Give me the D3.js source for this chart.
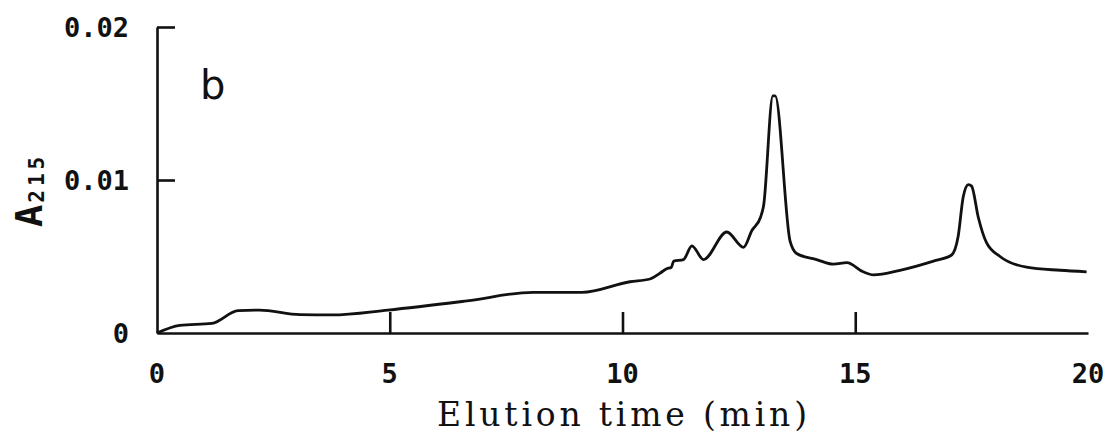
<!DOCTYPE html>
<html><head><meta charset="utf-8">
<script src="https://cdn.jsdelivr.net/npm/d3@7"></script>
<style>body{margin:0;background:#fff}svg{display:block}</style>
</head><body>
<svg id="c" width="1107" height="437"></svg>
<script>
const times  = [0, 0.49, 1.18, 1.74, 2.2, 3.07, 3.76, 4.96, 6.66, 8.08, 9.13, 10.16, 10.59, 10.8, 10.95, 11.05, 11.1, 11.31, 11.49, 11.74, 12.24, 12.6, 12.78, 12.97, 13.03, 13.23, 13.28, 13.6, 13.74, 14.17, 14.53, 14.82, 15.17, 15.39, 15.96, 16.68, 17.07, 17.21, 17.32, 17.43, 17.5, 17.64, 17.82, 18.11, 18.68, 19.4, 19.97];
const values = [0, 0.0005, 0.00063, 0.00146, 0.0015, 0.0012, 0.00118, 0.0015, 0.0021, 0.00266, 0.00266, 0.00335, 0.00353, 0.0039, 0.0042, 0.0043, 0.0047, 0.0048, 0.0057, 0.0048, 0.0066, 0.0056, 0.0067, 0.0076, 0.0083, 0.0155, 0.0155, 0.006, 0.0052, 0.0048, 0.0045, 0.0046, 0.004, 0.0038, 0.0041, 0.0047, 0.0051, 0.0063, 0.0089, 0.0097, 0.0096, 0.0076, 0.0059, 0.005, 0.0043, 0.0041, 0.004];
const xTicks = [0, 5, 10, 15, 20];
const yTicks = [0, 0.01, 0.02];
const yTickLabels = ["0", "0.01", "0.02"];

const svg = d3.select("#c");
const x = d3.scaleLinear().domain([0, 20]).range([157, 1088]);
const y = d3.scaleLinear().domain([0, 0.02]).range([333, 27]);

const gx = svg.append("g").attr("transform", `translate(0,${y(0)})`)
  .call(d3.axisTop(x).tickValues([5, 10, 15]).tickSize(21).tickSizeOuter(0).tickFormat(""));
gx.select(".domain").attr("stroke", "#111").attr("stroke-width", 2.6);
gx.selectAll(".tick line").attr("stroke", "#111").attr("stroke-width", 2.6);

const gy = svg.append("g").attr("transform", `translate(${x(0)},0)`)
  .call(d3.axisRight(y).tickValues([0.01, 0.02]).tickSize(18).tickSizeOuter(0).tickFormat(""));
gy.select(".domain").attr("stroke", "#111").attr("stroke-width", 2.6);
gy.selectAll(".tick line").attr("stroke", "#111").attr("stroke-width", 2.6);

svg.append("g").selectAll("text").data(xTicks).join("text")
  .attr("x", d => x(d)).attr("y", 383)
  .attr("text-anchor", "middle")
  .attr("font-family", "DejaVu Sans Mono").attr("font-weight", "bold").attr("font-size", 27)
  .attr("fill", "#111").text(d => d);

svg.append("g").selectAll("text").data(yTicks).join("text")
  .attr("x", 129).attr("y", d => y(d) + 10)
  .attr("text-anchor", "end")
  .attr("font-family", "DejaVu Sans Mono").attr("font-weight", "bold").attr("font-size", 27)
  .attr("fill", "#111").text((d, i) => yTickLabels[i]);

svg.append("text").attr("x", 437).attr("y", 426)
  .attr("textLength", 370).attr("lengthAdjust", "spacing")
  .attr("font-family", "DejaVu Serif").attr("font-size", 33)
  .attr("fill", "#111").text("Elution time (min)");

const yl = svg.append("text").attr("transform", "translate(42,227) rotate(-90)")
  .attr("text-anchor", "start")
  .attr("font-family", "DejaVu Sans Mono").attr("font-weight", "bold").attr("fill", "#111");
yl.append("tspan").attr("font-size", 37).text("A");
yl.append("tspan").attr("font-size", 21).attr("dy", 2).attr("dx", 2).attr("letter-spacing", 4).text("215");

svg.append("text").attr("x", 200).attr("y", 99)
  .attr("font-family", "DejaVu Sans").attr("font-size", 40)
  .attr("fill", "#111").text("b");

const pts = times.map((t, i) => [t, values[i]]);
svg.append("path").datum(pts)
  .attr("fill", "none").attr("stroke", "#111").attr("stroke-width", 2.8)
  .attr("stroke-linejoin", "round")
  .attr("d", d3.line().x(d => x(d[0])).y(d => y(d[1])).curve(d3.curveMonotoneX));
</script>
</body></html>
